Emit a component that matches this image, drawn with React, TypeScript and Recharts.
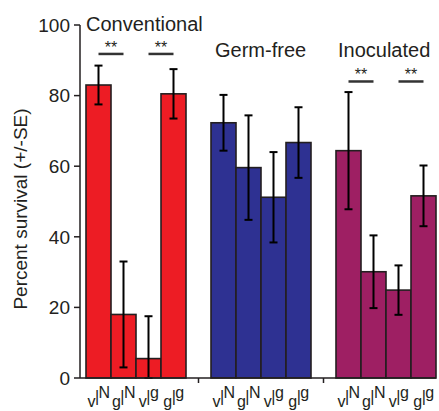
import React from 'react';
import {
  BarChart,
  Bar,
  XAxis,
  YAxis,
  ErrorBar,
  Cell,
  ReferenceLine,
} from 'recharts';

const groups = ['Conventional', 'Germ-free', 'Inoculated'];
const genotypes = ['v|N', 'g|N', 'v|g', 'g|g'];
const conventional = [83, 18, 5.5, 80.5];
const conventionalErr: [number, number][] = [[5.5, 5.5], [15, 15], [5.5, 12], [7, 7]];
const germFree = [72.3, 59.6, 51.2, 66.7];
const germFreeErr: [number, number][] = [[7.9, 7.9], [14.8, 14.8], [12.8, 12.8], [10, 10]];
const inoculated = [64.4, 30.1, 24.9, 51.6];
const inoculatedErr: [number, number][] = [[16.6, 16.6], [10.3, 10.3], [7, 7], [8.6, 8.6]];
const yTicks = [0, 20, 40, 60, 80, 100];
const groupColors = ['#ed1c24', '#2e3192', '#9e1f63'];

const INK = '#231f20';
const FONT = '"Liberation Sans", Arial, Helvetica, sans-serif';

// one row per bar, with an empty spacer row between the groups
const seriesVals = [conventional, germFree, inoculated];
const seriesErr = [conventionalErr, germFreeErr, inoculatedErr];
const data: { id: string; label: string; value: number | null; err: [number, number] | null; group: number }[] = [];
seriesVals.forEach((vals, g) => {
  if (g > 0) data.push({ id: `gap${g}`, label: '', value: null, err: null, group: -1 });
  vals.forEach((v, i) => {
    data.push({ id: `${g}-${i}`, label: genotypes[i], value: v, err: seriesErr[g][i], group: g });
  });
});

const XTick = (props: any) => {
  const { x, y, payload } = props;
  const row = data[payload.index];
  if (!row || row.group < 0) {
    return <line x1={x} x2={x} y1={y - 8} y2={y - 3} stroke={INK} strokeWidth={1.5} />;
  }
  const [a, b] = row.label.split('|');
  return (
    <text x={x} y={y + 17} textAnchor="middle" fontSize={16} fill={INK} fontFamily={FONT} letterSpacing={-0.5}>
      <tspan dy={4}>{a}</tspan>
      <tspan dy={-5}>|</tspan>
      <tspan dy={-4}>{b}</tspan>
    </text>
  );
};

const OutlinedBar = (props: any) => {
  const { x, y, width, height, payload } = props;
  if (!payload || payload.group < 0 || !height) return null;
  return (
    <rect
      x={x}
      y={y}
      width={width}
      height={height}
      fill={groupColors[payload.group]}
      stroke={INK}
      strokeWidth={1.6}
    />
  );
};

const sigLines = [
  ['0-0', '0-1', 91.8],
  ['0-2', '0-3', 91.8],
  ['2-0', '2-1', 84],
  ['2-2', '2-3', 84],
] as const;

const titlePos = [
  { left: 86, top: 14 },
  { left: 215, top: 40 },
  { left: 338, top: 40 },
];

export default function App() {
  return (
    <div style={{ position: 'absolute', left: 0, top: 0, width: 439, height: 411, background: '#fff' }}>
      <BarChart
        width={439}
        height={411}
        data={data}
        margin={{ top: 25, right: 3, bottom: 5, left: 0 }}
        barCategoryGap={0}
      >
        <XAxis
          dataKey="id"
          interval={0}
          height={28}
          padding={{ left: 6, right: 0 }}
          axisLine={{ stroke: INK, strokeWidth: 1.5 }}
          tickLine={false}
          tick={<XTick />}
        />
        <YAxis
          domain={[0, 100]}
          ticks={yTicks}
          width={80}
          axisLine={{ stroke: INK, strokeWidth: 1.5 }}
          tickLine={{ stroke: INK, strokeWidth: 1.5 }}
          tickSize={6}
          tickMargin={4}
          tick={{ fontSize: 19, fill: INK, fontFamily: FONT }}
        />
        <Bar dataKey="value" shape={<OutlinedBar />} isAnimationActive={false}>
          {data.map((d) => (
            <Cell key={d.id} fill={d.group >= 0 ? groupColors[d.group] : 'none'} />
          ))}
          <ErrorBar dataKey="err" width={4} stroke="#000" strokeWidth={2} />
        </Bar>
        {sigLines.map(([a, b, y]) => (
          <ReferenceLine
            key={a}
            segment={[{ x: a, y }, { x: b, y }]}
            stroke="#333"
            strokeWidth={2.5}
            ifOverflow="visible"
            label={{ value: '**', position: 'top', offset: 1, fontSize: 16, fill: INK, fontFamily: FONT }}
          />
        ))}
      </BarChart>
      <div
        style={{
          position: 'absolute',
          left: 21,
          top: 209,
          transform: 'translate(-50%, -50%) rotate(-90deg)',
          fontFamily: FONT,
          fontSize: 19,
          lineHeight: '20px',
          color: INK,
          whiteSpace: 'nowrap',
        }}
      >
        Percent survival (+/-SE)
      </div>
      {groups.map((g, i) => (
        <div
          key={g}
          style={{
            position: 'absolute',
            left: titlePos[i].left,
            top: titlePos[i].top,
            fontFamily: FONT,
            fontSize: 20,
            lineHeight: '20px',
            color: INK,
            whiteSpace: 'nowrap',
          }}
        >
          {g}
        </div>
      ))}
    </div>
  );
}
